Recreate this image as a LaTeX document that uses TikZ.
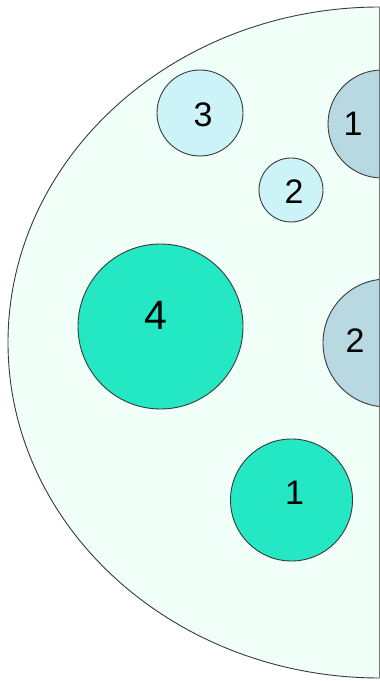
\documentclass[tikz,border=0pt]{standalone}
\usepackage{fontspec}
\setmainfont{Liberation Sans}
\usepackage{tikz}
\definecolor{dishfill}{RGB}{240,255,248}
\definecolor{palecyan}{RGB}{204,244,248}
\definecolor{greyblue}{RGB}{184,216,226}
\definecolor{mintgreen}{RGB}{36,232,196}
\definecolor{rimgrey}{RGB}{58,58,58}

\begin{document}
\begin{tikzpicture}[x=1pt,y=1pt,
    well/.style={circle, draw=rimgrey, line width=0.9pt, inner sep=0pt},
    num/.style={font=\fontsize{34}{34}\selectfont}]
    \useasboundingbox (0,0) rectangle (380,681);
    \begin{scope}
        \clip (0,0) rectangle (379.5,681);
        % Dish
        \draw[fill=dishfill, draw=rimgrey, line width=0.9pt] (380,674)
            arc[start angle=90, end angle=270, x radius=372, y radius=335.5] -- cycle;
        % Wells
        \foreach \n/\x/\y/\d/\col in {c3/200/568/86/palecyan, c2a/291/491/64/palecyan,
                c4/160.5/354.5/165/mintgreen, c1b/291.5/181/122/mintgreen,
                c1a/382/557/108/greyblue, c2b/387/338/128/greyblue} {
            \node[well, fill=\col, minimum size=\d] (\n) at (\x,\y) {};
        }
    \end{scope}
    % Labels
    \node[num] (t3) at ([shift={(3,-2)}]c3) {3};
    \node[num] (t2a) at ([shift={(3,-2)}]c2a) {2};
    \node[font=\fontsize{41}{41}\selectfont] (t4) at ([shift={(-4.5,11.5)}]c4) {4};
    \node[num] (t1b) at ([shift={(3,7)}]c1b) {1};
    \node[num] (t1a) at (353,557) {1};
    \node[num] (t2b) at (355,340) {2};
    \draw[draw=rimgrey!70, line width=0.9pt] (379.5,674) -- (379.5,3);
\end{tikzpicture}
\end{document}
